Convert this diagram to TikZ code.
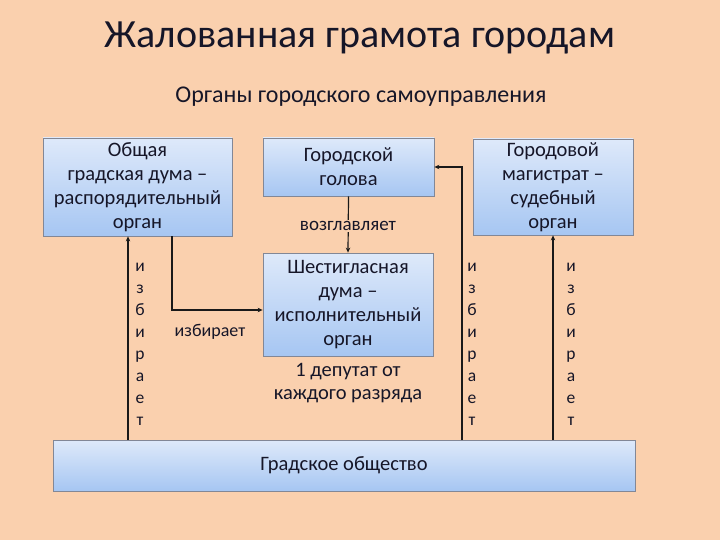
\documentclass[tikz,border=0pt]{standalone}
\usepackage{fontspec}
\setmainfont{Carlito}
\usetikzlibrary{arrows.meta}
\definecolor{peach}{RGB}{250,208,174}
\definecolor{boxtop}{RGB}{222,233,250}
\definecolor{boxbot}{RGB}{166,198,242}
\definecolor{boxline}{RGB}{130,135,150}
\definecolor{ink}{RGB}{22,22,40}
\begin{document}
\begin{tikzpicture}[x=1pt,y=-1pt]
\tikzset{
  organ/.style={draw=boxline,line width=0.8pt,top color=boxtop,bottom color=boxbot,
    text=ink,align=center,inner sep=0pt,font=\fontsize{20.5}{24}\selectfont},
  link/.style={draw=black!90,line width=1.2pt,-{Stealth[length=5pt,width=4.5pt]}},
  vword/.style={text=ink,align=center,font=\fontsize{17.5}{22}\selectfont},
  note/.style={text=ink,align=center,font=\fontsize{18}{20}\selectfont}
}
\fill[peach] (0,0) rectangle (720,540);
\useasboundingbox (0,0) rectangle (720,540);

\node[text=ink,font=\fontsize{40}{44}\selectfont] (title) at (360,38) {Жалованная грамота городам};
\node[text=ink,font=\fontsize{24}{28}\selectfont] (sub) at (361,97) {Органы городского самоуправления};

\node[organ,minimum width=189pt,minimum height=98pt] (duma) at (137.5,187) {Общая\\градская дума --\\распорядительный\\орган};
\node[organ,minimum width=171pt,minimum height=58pt] (golova) at (348.5,167) {Городской\\голова};
\node[organ,minimum width=160pt,minimum height=96pt] (magistrat) at (553,187) {Городовой\\магистрат --\\судебный\\орган};
\node[organ,minimum width=170pt,minimum height=103pt] (shest) at (348,304.5) {Шестигласная\\дума --\\исполнительный\\орган};
\node[organ,minimum width=582pt,minimum height=51pt] (obsch) at (344,465.5) {Градское общество};

\coordinate (l1) at (128,0);
\coordinate (e1) at (172,310);
\coordinate (r1) at (462,0);

\draw[link] (obsch.north -| l1) -- (duma.south -| l1);
\draw[link] (duma.south -| e1) |- (shest.west |- e1);
\draw[link] (golova.south) -- (shest.north);
\draw[link] (obsch.north -| r1) |- (golova.east);
\draw[link] (obsch.north -| magistrat) -- (magistrat.south);

\node[note,fill=peach,inner sep=1pt,font=\fontsize{19}{20}\selectfont] (vozgl) at (348,226) {возглавляет};
\node[note] (izb) at (210,332) {избирает};
\node[text=ink,align=center,font=\fontsize{20.5}{23}\selectfont] (dep) at (348,383.5) {1 депутат от\\каждого разряда};

\node[vword] (v1) at (140,344.5) {и\\з\\б\\и\\р\\а\\е\\т};
\node[vword] (v2) at (472,344.5) {и\\з\\б\\и\\р\\а\\е\\т};
\node[vword] (v3) at (571,344.5) {и\\з\\б\\и\\р\\а\\е\\т};
\end{tikzpicture}
\end{document}
